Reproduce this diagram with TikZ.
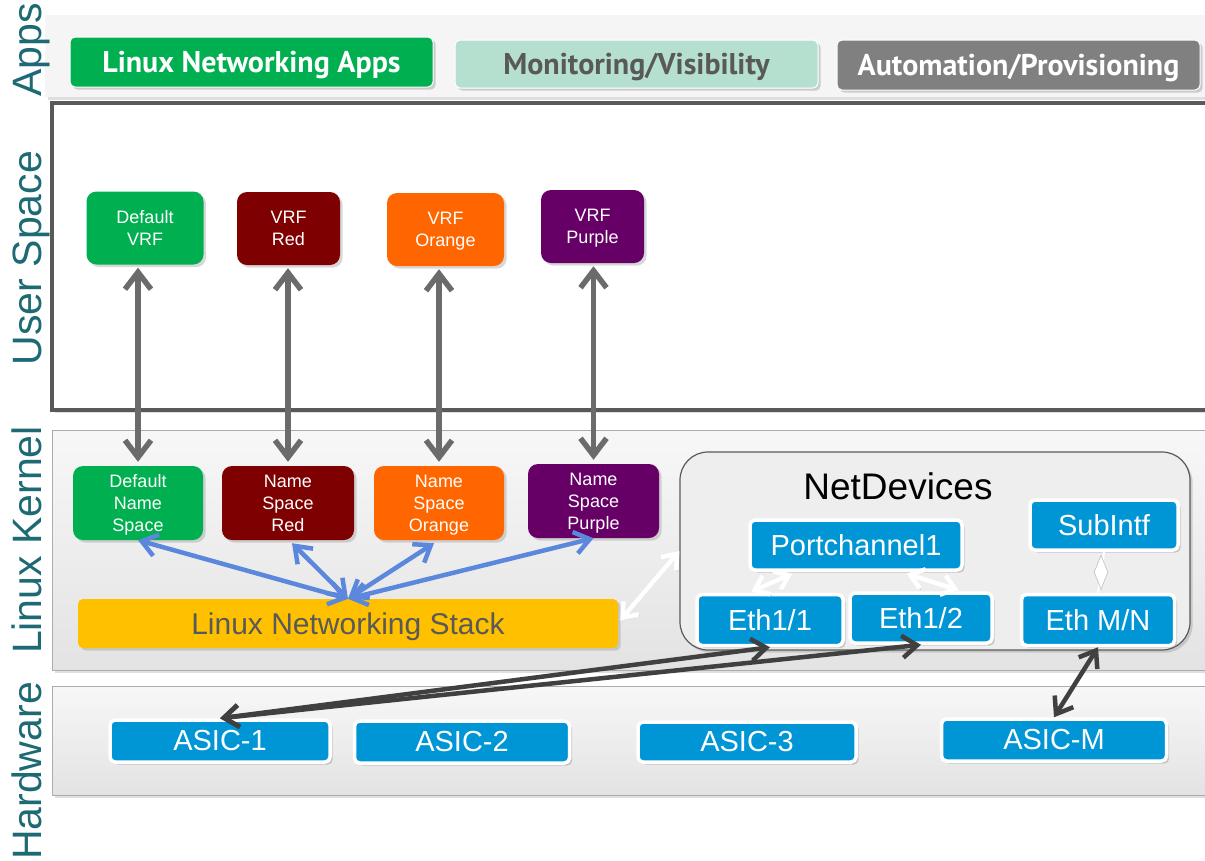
\documentclass[tikz,border=0pt]{standalone}
\usepackage{fontspec}
\setmainfont{Liberation Sans}
\newfontfamily\appfont{PT Sans}
\usetikzlibrary{arrows.meta,shadows,shapes.geometric,calc}
\definecolor{cgreen}{HTML}{00B050}
\definecolor{cred}{HTML}{7F0000}
\definecolor{corange}{HTML}{FF6600}
\definecolor{cpurple}{HTML}{660066}
\definecolor{cblue}{HTML}{0096D6}
\definecolor{cyellow}{HTML}{FFC000}
\definecolor{cmint}{HTML}{B5E0CF}
\definecolor{cgraybox}{HTML}{808080}
\definecolor{cteal}{HTML}{1D6A74}
\definecolor{ctxt}{HTML}{595959}
\definecolor{carrgray}{HTML}{6B6B6B}
\definecolor{carrblue}{HTML}{5B87DD}
\definecolor{carrdark}{HTML}{404040}
\tikzset{
  band/.style={draw=gray!65, line width=1pt, top color=gray!6, bottom color=gray!22},
  appbox/.style={rounded corners=5pt, draw=white, line width=1pt, minimum width=363pt,
    minimum height=50pt, inner sep=0pt, text depth=0pt,
    font=\appfont\bfseries\fontsize{30}{32}\selectfont, drop shadow={opacity=0.35}},
  vrf/.style={rounded corners=10pt, text=white, align=center, inner sep=0pt, text depth=0pt,
    font=\fontsize{18}{22}\selectfont, drop shadow={opacity=0.3}, minimum height=73pt},
  blubox/.style={rounded corners=5pt, fill=cblue, draw=white, line width=3.5pt, text=white,
    inner sep=0pt, font=\fontsize{29}{31}\selectfont, drop shadow={opacity=0.35}},
  sidelabel/.style={rotate=90, anchor=base, text=cteal, font=\fontsize{41}{41}\selectfont},
  grayarr/.style={draw=carrgray, line width=5.5pt,
    {Straight Barb[length=17pt,width=26pt]}-{Straight Barb[length=17pt,width=26pt]}},
  bluearr/.style={draw=carrblue, line width=4.5pt,
    {Straight Barb[length=15pt,width=22pt]}-{Straight Barb[length=15pt,width=22pt]}},
  darkarr/.style={draw=carrdark, line width=4.5pt,
    {Straight Barb[length=15pt,width=22pt]}-{Straight Barb[length=15pt,width=22pt]}},
  whitearr/.style={draw=white, line width=4.5pt,
    {Straight Barb[length=13pt,width=20pt]}-{Straight Barb[length=13pt,width=20pt]},
    preaction={draw=black!30, transform canvas={xshift=1.2pt,yshift=-1.5pt}}},
}
\begin{document}
\begin{tikzpicture}[x=1pt,y=-1pt]
\useasboundingbox (0,0) rectangle (1205,860);
\fill[white] (0,0) rectangle (1205,860);

% bands
\fill[gray!8, drop shadow={opacity=0.25}] (45,15) rectangle (1215,97);
\draw[draw=ctxt, line width=4pt, fill=white, drop shadow={opacity=0.25}] (52,103) rectangle (1215,410);
\draw[band, drop shadow={opacity=0.25}] (52,430) rectangle (1215,670);
\draw[band, drop shadow={opacity=0.25}] (52,686) rectangle (1215,795);

% side labels
\node[sidelabel] (lapps) at (41,50) {Apps};
\node[sidelabel] (luser) at (41,258) {User Space};
\node[sidelabel] (lkern) at (41,540) {Linux Kernel};
\node[sidelabel] (lhw) at (41,771) {Hardware};

% apps
\node[appbox, fill=cgreen, text=white] (la) at (251.5,62) {Linux Networking Apps};
\node[appbox, fill=cmint, text=ctxt, minimum height=48pt] (mv) at (636.5,64) {Monitoring/Visibility};
\node[appbox, fill=cgraybox, text=white] (ap) at (1018.5,65) {Automation/Provisioning};

% VRFs
\node[vrf, fill=cgreen, minimum width=117pt] (dv) at (145,228) {Default\\VRF};
\node[vrf, fill=cred, minimum width=103pt] (rv) at (288.5,228.5) {VRF\\Red};
\node[vrf, fill=corange, minimum width=117pt] (ov) at (445.5,229.5) {VRF\\Orange};
\node[vrf, fill=cpurple, minimum width=103pt] (pv) at (592.5,226.5) {VRF\\Purple};

% Name spaces
\node[vrf, fill=cgreen, minimum width=130pt, minimum height=74pt] (dn) at (138,503) {Default\\Name\\Space};
\node[vrf, fill=cred, minimum width=132pt, minimum height=74pt] (rn) at (288,503) {Name\\Space\\Red};
\node[vrf, fill=corange, minimum width=130pt, minimum height=74pt] (on) at (439,503) {Name\\Space\\Orange};
\node[vrf, fill=cpurple, minimum width=131pt, minimum height=74pt] (pn) at (593.5,501) {Name\\Space\\Purple};

% stack
\node[rounded corners=5pt, fill=cyellow, minimum width=540pt, minimum height=49pt, inner sep=0pt,
  text depth=0pt, text=ctxt, font=\fontsize{30}{32}\selectfont, drop shadow={opacity=0.3}] (st) at (348,623.5) {Linux Networking Stack};

% NetDevices
\node[draw=ctxt, line width=1.2pt, fill=gray!13, rounded corners=28pt, minimum width=510pt,
  minimum height=198pt, drop shadow={opacity=0.3}] (nd) at (935,551) {};
\node[font=\fontsize{37}{40}\selectfont, text=black] (ndl) at (898,486) {NetDevices};
\node[blubox, minimum width=212pt, minimum height=50pt] (pc) at (856,545) {Portchannel1};
\node[blubox, minimum width=146pt, minimum height=51pt] (e11) at (770,620) {Eth1/1};
\node[blubox, minimum width=142pt, minimum height=50pt] (e12) at (921,618) {Eth1/2};
\node[blubox, minimum width=148pt, minimum height=50pt] (sub) at (1104,525) {SubIntf};
\node[blubox, minimum width=153pt, minimum height=51pt] (emn) at (1098,620) {Eth M/N};

% ASICs
\node[blubox, minimum width=220pt, minimum height=42pt] (a1) at (220,741) {ASIC-1};
\node[blubox, minimum width=215pt, minimum height=42pt] (a2) at (462,742) {ASIC-2};
\node[blubox, minimum width=218pt, minimum height=40pt] (a3) at (747,742) {ASIC-3};
\node[blubox, minimum width=225pt, minimum height=42pt] (am) at (1054,740) {ASIC-M};

% connectors
\draw[grayarr, shorten <=3pt, shorten >=4pt] (dv.south -| dn.north) -- (dn.north);
\draw[grayarr, shorten <=3pt, shorten >=4pt] (rv.south -| rn.north) -- (rn.north);
\draw[grayarr, shorten <=3pt, shorten >=4pt] (ov.south -| on.north) -- (on.north);
\draw[grayarr, shorten <=3pt, shorten >=4pt] (pv.south -| pn.north) -- (pn.north);

\draw[bluearr] (st.north) -- (dn.south);
\draw[bluearr] (st.north) -- ($(rn.south)+(4,3)$);
\draw[bluearr] (st.north) -- ($(on.south)+(-5,3)$);
\draw[bluearr] (st.north) -- (pn.south);

\draw[whitearr] ($(st.east)+(2,-3)$) -- (nd.west);
\draw[whitearr] ($(pc.south west)+(44,2)$) -- ($(e11.north west)+(56,-1)$);
\draw[whitearr] ($(pc.south east)+(-57,2)$) -- ($(e12.north east)+(-35,-1)$);

\draw[white, line width=2pt] (sub.south) -- (emn.north)
  node[midway, diamond, fill=white, draw=gray!50, line width=0.6pt, minimum width=14pt,
       minimum height=34pt, inner sep=0pt] (dia) {};

\draw[darkarr] (a1.north) -- (e11.south);
\draw[darkarr] (a1.north) -- (e12.south);
\draw[darkarr] (am.north) -- (emn.south);
\end{tikzpicture}
\end{document}
